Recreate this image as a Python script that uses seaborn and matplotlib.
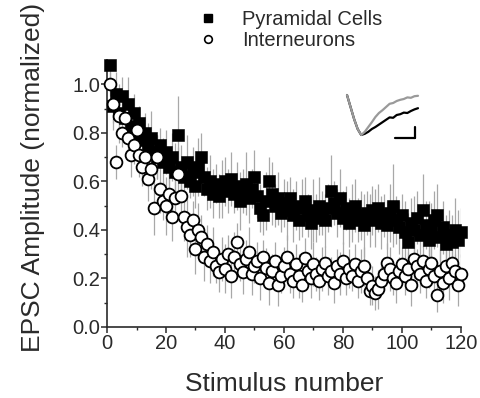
import matplotlib
matplotlib.use('Agg')
import numpy as np
import pandas as pd
import matplotlib.pyplot as plt
from matplotlib.lines import Line2D
import seaborn as sns

# numero de estimulo
estimulo = list(range(1, 121))

# amplitud EPSC normalizada - celulas piramidales
piramidales = [1.08, 0.91, 0.96, 0.88, 0.95, 0.86, 0.92, 0.83, 0.88, 0.80,
               0.84, 0.77, 0.80, 0.74, 0.78, 0.72, 0.70, 0.75, 0.68, 0.72,
               0.66, 0.70, 0.64, 0.79, 0.66, 0.62, 0.68, 0.60, 0.64, 0.58,
               0.66, 0.70, 0.62, 0.57, 0.60, 0.55, 0.59, 0.54, 0.57, 0.60,
               0.56, 0.61, 0.55, 0.58, 0.52, 0.56, 0.59, 0.53, 0.57, 0.62,
               0.54, 0.49, 0.46, 0.52, 0.60, 0.55, 0.50, 0.53, 0.47, 0.51,
               0.48, 0.53, 0.46, 0.50, 0.44, 0.49, 0.52, 0.46, 0.43, 0.48,
               0.45, 0.50, 0.47, 0.44, 0.49, 0.56, 0.51, 0.47, 0.53, 0.45,
               0.49, 0.43, 0.47, 0.50, 0.44, 0.46, 0.42, 0.47, 0.44, 0.48,
               0.45, 0.49, 0.43, 0.46, 0.42, 0.47, 0.50, 0.44, 0.41, 0.46,
               0.39, 0.35, 0.43, 0.40, 0.45, 0.38, 0.48, 0.42, 0.36, 0.40,
               0.44, 0.46, 0.37, 0.41, 0.34, 0.38, 0.35, 0.40, 0.36, 0.39]
err_piramidales = [0.06, 0.10, 0.09, 0.12, 0.08, 0.07, 0.11, 0.09, 0.08, 0.10,
                   0.07, 0.09, 0.08, 0.10, 0.11, 0.08, 0.09, 0.07, 0.10, 0.09,
                   0.08, 0.10, 0.12, 0.16, 0.09, 0.08, 0.11, 0.07, 0.10, 0.09,
                   0.12, 0.10, 0.08, 0.09, 0.11, 0.10, 0.08, 0.09, 0.12, 0.10,
                   0.09, 0.11, 0.08, 0.10, 0.12, 0.09, 0.13, 0.10, 0.08, 0.11,
                   0.09, 0.10, 0.08, 0.12, 0.10, 0.13, 0.09, 0.11, 0.08, 0.10,
                   0.12, 0.09, 0.11, 0.10, 0.08, 0.12, 0.10, 0.09, 0.11, 0.13,
                   0.10, 0.12, 0.09, 0.11, 0.10, 0.15, 0.09, 0.10, 0.12, 0.11,
                   0.09, 0.10, 0.12, 0.11, 0.09, 0.10, 0.13, 0.09, 0.11, 0.10,
                   0.12, 0.10, 0.11, 0.09, 0.10, 0.12, 0.17, 0.10, 0.11, 0.09,
                   0.13, 0.12, 0.10, 0.14, 0.11, 0.12, 0.15, 0.10, 0.16, 0.11,
                   0.12, 0.13, 0.10, 0.11, 0.12, 0.10, 0.11, 0.13, 0.12, 0.10]

# amplitud EPSC normalizada - interneuronas
interneuronas = [1.00, 0.92, 0.68, 0.87, 0.80, 0.86, 0.78, 0.71, 0.75, 0.81,
                 0.71, 0.66, 0.70, 0.61, 0.65, 0.49, 0.70, 0.57, 0.52, 0.50,
                 0.55, 0.455, 0.53, 0.63, 0.54, 0.455, 0.41, 0.38, 0.44, 0.32,
                 0.40, 0.37, 0.29, 0.34, 0.27, 0.31, 0.25, 0.225, 0.28, 0.24,
                 0.30, 0.21, 0.29, 0.35, 0.26, 0.225, 0.28, 0.31, 0.22, 0.25,
                 0.27, 0.20, 0.29, 0.245, 0.18, 0.23, 0.27, 0.175, 0.21, 0.25,
                 0.29, 0.22, 0.19, 0.26, 0.21, 0.175, 0.285, 0.23, 0.20, 0.26,
                 0.22, 0.19, 0.24, 0.265, 0.21, 0.23, 0.18, 0.25, 0.22, 0.27,
                 0.20, 0.24, 0.21, 0.26, 0.19, 0.23, 0.25, 0.20, 0.15, 0.17,
                 0.14, 0.155, 0.19, 0.22, 0.265, 0.24, 0.20, 0.18, 0.23, 0.26,
                 0.21, 0.24, 0.175, 0.28, 0.25, 0.22, 0.27, 0.19, 0.24, 0.265,
                 0.21, 0.13, 0.23, 0.18, 0.25, 0.20, 0.265, 0.23, 0.175, 0.22]
err_interneuronas = [0.05, 0.08, 0.07, 0.09, 0.06, 0.08, 0.07, 0.09, 0.08, 0.07,
                     0.09, 0.08, 0.10, 0.09, 0.08, 0.11, 0.09, 0.10, 0.08, 0.12,
                     0.09, 0.10, 0.08, 0.11, 0.09, 0.10, 0.12, 0.09, 0.08, 0.10,
                     0.11, 0.09, 0.10, 0.08, 0.09, 0.10, 0.07, 0.08, 0.09, 0.10,
                     0.08, 0.09, 0.10, 0.08, 0.07, 0.09, 0.08, 0.10, 0.09, 0.07,
                     0.08, 0.09, 0.07, 0.08, 0.09, 0.07, 0.08, 0.09, 0.07, 0.08,
                     0.09, 0.08, 0.07, 0.08, 0.09, 0.07, 0.08, 0.06, 0.08, 0.09,
                     0.07, 0.08, 0.09, 0.07, 0.08, 0.06, 0.08, 0.07, 0.09, 0.08,
                     0.07, 0.08, 0.06, 0.08, 0.07, 0.09, 0.08, 0.07, 0.06, 0.08,
                     0.07, 0.08, 0.06, 0.07, 0.08, 0.09, 0.07, 0.08, 0.06, 0.07,
                     0.08, 0.07, 0.09, 0.08, 0.07, 0.08, 0.09, 0.07, 0.08, 0.09,
                     0.08, 0.07, 0.09, 0.08, 0.07, 0.09, 0.08, 0.07, 0.09, 0.08]

# trazas de ejemplo (inset)
t_traza = list(range(0, 21))
traza_gris = [0.0, -0.3, -0.6, -0.85, -1.0, -0.92, -0.8, -0.68, -0.55, -0.45, -0.38,
              -0.3, -0.22, -0.2, -0.15, -0.12, -0.1, -0.06, -0.07, -0.03, -0.02]
traza_negra = [0.0, -0.3, -0.6, -0.85, -1.0, -0.97, -0.92, -0.85, -0.8, -0.74, -0.68,
               -0.62, -0.56, -0.57, -0.5, -0.48, -0.44, -0.45, -0.4, -0.36, -0.33]

sns.set_theme(style="ticks")
plt.rcParams['font.family'] = ['Liberation Sans', 'DejaVu Sans']
color_texto = '#2a2a2a'

df_pir = pd.DataFrame({'estimulo': estimulo, 'amp': piramidales, 'err': err_piramidales})
df_int = pd.DataFrame({'estimulo': estimulo, 'amp': interneuronas, 'err': err_interneuronas})

fig = plt.figure(figsize=(4.81, 3.98), dpi=100)
ax = fig.add_axes([107 / 481, 1 - 327 / 398, 354 / 481, 267 / 398])

# barras de error grises detras
for df in (df_pir, df_int):
    ax.errorbar(df['estimulo'], df['amp'], yerr=df['err'], fmt='none',
                ecolor='#a8a8a8', elinewidth=0.9, capsize=0, zorder=1)

sns.scatterplot(data=df_pir, x='estimulo', y='amp', marker='s', s=85, color='black',
                edgecolor='black', linewidth=0.4, ax=ax, zorder=3, clip_on=False)
sns.scatterplot(data=df_int, x='estimulo', y='amp', marker='o', s=72, color='white',
                edgecolor='black', linewidth=1.3, ax=ax, zorder=4, clip_on=False)

ax.set_xlim(0, 120)
ax.set_ylim(0, 1.1)
ax.set_xticks(np.arange(0, 121, 20))
ax.set_xticks(np.arange(0, 121, 10), minor=True)
ax.set_yticks(np.arange(0, 1.01, 0.2))
ax.set_yticks(np.arange(0, 1.01, 0.1), minor=True)
ax.set_yticklabels([f"{v:.1f}" for v in np.arange(0, 1.01, 0.2)])
ax.tick_params(axis='both', which='major', direction='out', length=4, width=1.1,
               labelsize=14.5, colors=color_texto, pad=1)
ax.tick_params(axis='both', which='minor', direction='out', length=2.5, width=1.0,
               colors=color_texto)
for s in ('left', 'bottom'):
    ax.spines[s].set_linewidth(1.2)
    ax.spines[s].set_color(color_texto)
sns.despine(ax=ax)

ax.set_xlabel("Stimulus number", fontsize=19, color=color_texto, labelpad=14)
ax.set_ylabel("EPSC Amplitude (normalized)", fontsize=19, color=color_texto)
ax.yaxis.set_label_coords(-0.175, 0.56)

# leyenda
handles = [Line2D([], [], marker='s', color='black', linestyle='none', markersize=5.5),
           Line2D([], [], marker='o', markerfacecolor='white', markeredgecolor='black',
                  markeredgewidth=1.2, linestyle='none', markersize=5.5)]
fig.legend(handles, ['Pyramidal Cells', 'Interneurons'], loc='upper left',
           bbox_to_anchor=(198 / 481, 1 - 10 / 398), frameon=False, fontsize=14.5,
           handlelength=1.0, handletextpad=1.2, borderpad=0, borderaxespad=0,
           labelspacing=0.12, labelcolor=color_texto)

# inset con las trazas
ax_in = fig.add_axes([340 / 481, 1 - 145 / 398, 85 / 481, 60 / 398])
ax_in.plot(t_traza, traza_negra, color='black', lw=1.6)
ax_in.plot(t_traza, traza_gris, color='#9a9a9a', lw=1.6)
ax_in.plot([13.5, 19.2], [-1.07, -1.07], color='black', lw=1.6)
ax_in.plot([19.2, 19.2], [-1.07, -0.8], color='black', lw=1.6)
ax_in.set_xlim(-1.97, 21.97)
ax_in.set_ylim(-1.25, 0.25)
ax_in.axis('off')

plt.savefig('out.png', dpi=100)
plt.close()
